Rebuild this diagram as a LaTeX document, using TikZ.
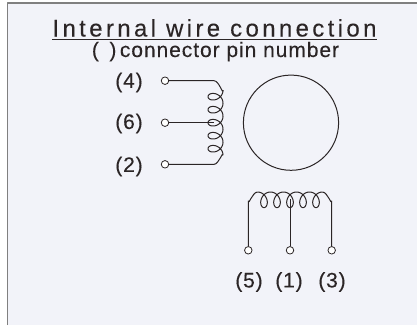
\documentclass[tikz,border=0pt]{standalone}
\usepackage{fontspec}
\setmainfont{Liberation Sans}
\definecolor{panel}{HTML}{F2F3F9}
\definecolor{ink}{HTML}{2B2526}
\newlength\Radius
\setlength\Radius{47.6pt}
\tikzset{
  pin/.style={circle, draw=ink, fill=white, line width=0.8pt, minimum size=7.5pt, inner sep=0pt},
  pinlabel/.style={text=ink, inner sep=0pt, font=\fontsize{21}{21}\selectfont\addfontfeature{LetterSpace=4,FakeBold=0.2}},
  wire/.style={draw=ink, line width=1pt}
}

\begin{document}
\begin{tikzpicture}[x=1pt, y=-1pt, line join=round]
  \useasboundingbox (0,0) rectangle (417,325);
  \fill[panel] (7.5,3) rectangle (417,325);
  \draw[gray, line width=1.2pt] (7.5,325) -- (7.5,3) -- (417,3);

  \node[text=ink, inner sep=0pt, anchor=base, font=\fontsize{24}{24}\selectfont\addfontfeature{LetterSpace=14,FakeBold=0.2}]
    (title) at (214.5,36.5) {Internal wire connection};
  \coordinate (ruleL) at (52,39.5);
  \coordinate (ruleR) at (377,39.5);
  \draw[ink, line width=1.2pt] (ruleL) -- (ruleR);
  \node[text=ink, inner sep=0pt, anchor=base, font=\fontsize{21}{21}\selectfont\addfontfeature{LetterSpace=4.5,FakeBold=0.2}]
    (subtitle) at (215.5,57) {(\hspace{0.5em})\,connector pin number};

  % left winding
  \node[pin] (pinA) at (165,80.7) {};
  \node[pin] (pinB) at (165,122.7) {};
  \node[pin] (pinC) at (165,164.3) {};
  \node[pinlabel] (labA) at (129,82.5) {(4)};
  \node[pinlabel] (labB) at (129,123.5) {(6)};
  \node[pinlabel] (labC) at (129,166.5) {(2)};
  \coordinate (coilAtop) at (223,90.2);
  \coordinate (coilAbot) at (223,155.2);
  \coordinate (coilAmid) at (214,122.7);
  \draw[wire] plot[domain=0:1800, samples=241, smooth]
    ({215.5+7.5*cos(\x)}, {90.2+\x/360*13+6.2*sin(\x)});
  \draw[wire] (pinA) -- (214,80.7) to[out=0, in=-90] (coilAtop);
  \draw[wire] (pinB) -- (coilAmid);
  \draw[wire] (pinC) -- (214,164.3) to[out=0, in=90] (coilAbot);

  \draw[ink, line width=1pt] (291,122.7) circle [radius=\Radius];

  % bottom winding
  \node[pin] (pinD) at (248.3,250.3) {};
  \node[pin] (pinE) at (290,250.3) {};
  \node[pin] (pinF) at (331.7,250.3) {};
  \node[pinlabel] (labD) at (249,282) {(5)};
  \node[pinlabel] (labE) at (289,282) {(1)};
  \node[pinlabel] (labF) at (332,282) {(3)};
  \coordinate (coilBleft) at (257.5,192);
  \coordinate (coilBright) at (322.5,192);
  \coordinate (coilBmid) at (290,199);
  \draw[wire] plot[domain=0:1800, samples=241, smooth]
    ({257.5+\x/360*13+6.2*sin(\x)}, {199.8-7.8*cos(\x)});
  \draw[wire] (pinD) -- (248.3,201) to[out=-90, in=180] (coilBleft);
  \draw[wire] (pinE) -- (coilBmid);
  \draw[wire] (pinF) -- (331.7,201) to[out=-90, in=0] (coilBright);
\end{tikzpicture}
\end{document}
